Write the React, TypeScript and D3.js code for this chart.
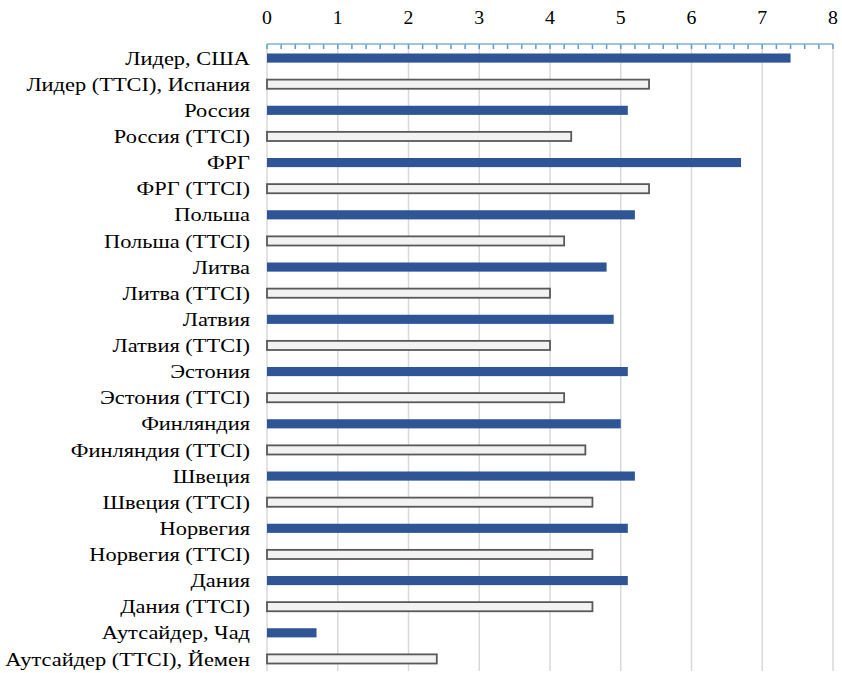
import React, { useEffect, useRef } from 'react';
import * as d3 from 'd3';

const categories = [
  'Лидер, США', 'Лидер (ТТСI), Испания', 'Россия', 'Россия (ТТСI)', 'ФРГ', 'ФРГ (ТТСI)',
  'Польша', 'Польша (ТТСI)', 'Литва', 'Литва (ТТСI)', 'Латвия', 'Латвия (ТТСI)',
  'Эстония', 'Эстония (ТТСI)', 'Финляндия', 'Финляндия (ТТСI)', 'Швеция', 'Швеция (ТТСI)',
  'Норвегия', 'Норвегия (ТТСI)', 'Дания', 'Дания (ТТСI)', 'Аутсайдер, Чад', 'Аутсайдер (ТТСI), Йемен',
];
const values = [
  7.4, 5.4, 5.1, 4.3, 6.7, 5.4,
  5.2, 4.2, 4.8, 4.0, 4.9, 4.0,
  5.1, 4.2, 5.0, 4.5, 5.2, 4.6,
  5.1, 4.6, 5.1, 4.6, 0.7, 2.4,
];
const ttci = categories.map(c => c.includes('ТТСI'));
const xTicks = [0, 1, 2, 3, 4, 5, 6, 7, 8];

export default function App() {
  const ref = useRef<SVGSVGElement>(null);

  useEffect(() => {
    const svg = d3.select(ref.current);
    svg.selectAll('*').remove();
    const height = 673;
    const left = 267;
    const right = 833;
    const top = 44;
    const font = '"Liberation Serif", "Times New Roman", serif';

    const x = d3.scaleLinear().domain([0, 8]).range([left, right]);
    const y = d3.scaleBand<string>()
      .domain(categories)
      .range([45, 672])
      .paddingInner(0.65)
      .paddingOuter(0.325);

    // vertical gridlines
    svg.append('g')
      .selectAll('line')
      .data(xTicks)
      .enter()
      .append('line')
      .attr('x1', d => x(d))
      .attr('x2', d => x(d))
      .attr('y1', top)
      .attr('y2', height - 2)
      .attr('stroke', '#d9d9d9')
      .attr('stroke-width', 1.5);

    // top axis with minor ticks
    const minor = d3.range(0, 8.0001, 0.2);
    svg.append('g')
      .selectAll('line')
      .data(minor)
      .enter()
      .append('line')
      .attr('x1', d => x(d))
      .attr('x2', d => x(d))
      .attr('y1', top)
      .attr('y2', top + 5)
      .attr('stroke', '#5b9bd5')
      .attr('stroke-width', 1.5);
    svg.append('line')
      .attr('x1', left)
      .attr('x2', right)
      .attr('y1', top)
      .attr('y2', top)
      .attr('stroke', '#7fb0d6')
      .attr('stroke-width', 1.5);

    svg.append('g')
      .selectAll('text')
      .data(xTicks)
      .enter()
      .append('text')
      .attr('transform', d => `translate(${x(d)},24) scale(1.1,1)`)
      .attr('text-anchor', 'middle')
      .attr('font-family', font)
      .attr('font-size', 18)
      .attr('fill', '#000')
      .text(d => d);

    // bars
    svg.append('g')
      .selectAll('rect')
      .data(categories)
      .enter()
      .append('rect')
      .attr('x', x(0))
      .attr('y', d => y(d)!)
      .attr('width', (d, i) => x(values[i]) - x(0))
      .attr('height', y.bandwidth())
      .attr('fill', (d, i) => (ttci[i] ? '#f2f2f2' : '#2f5597'))
      .attr('stroke', (d, i) => (ttci[i] ? '#595959' : 'none'))
      .attr('stroke-width', 1.8);

    // category labels (source text looks horizontally stretched)
    svg.append('g')
      .selectAll('text')
      .data(categories)
      .enter()
      .append('text')
      .attr('transform', d => `translate(250,${y(d)! + y.bandwidth() / 2}) scale(1.18,1)`)
      .attr('dy', '0.35em')
      .attr('text-anchor', 'end')
      .attr('font-family', font)
      .attr('font-size', 19)
      .attr('fill', '#000')
      .text(d => d);
  }, []);

  return (
    <svg
      ref={ref}
      width={842}
      height={673}
      style={{ position: 'absolute', left: 0, top: 0, background: '#fff' }}
    />
  );
}
